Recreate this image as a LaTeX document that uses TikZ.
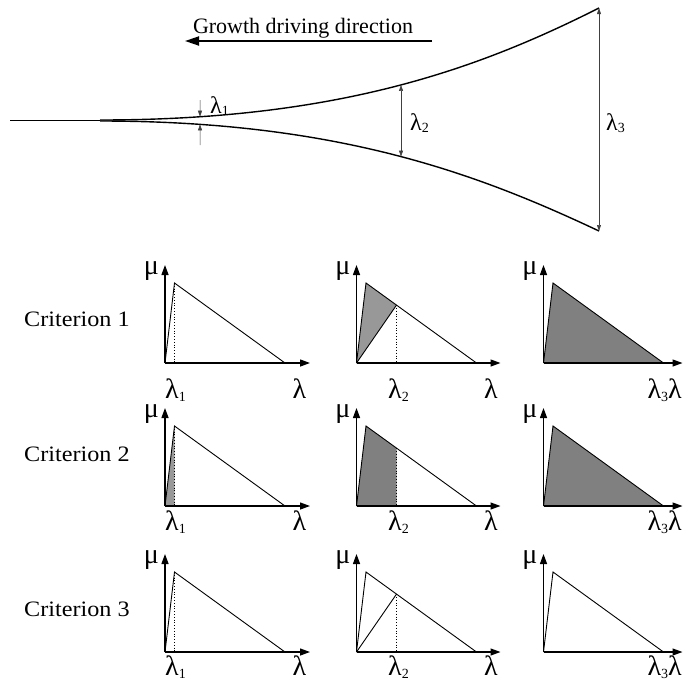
\documentclass[tikz,border=0pt]{standalone}
\usepackage{fontspec}
\setmainfont{Liberation Serif}
\newfontfamily\critfont[FakeStretch=1.1]{Liberation Serif}
\usetikzlibrary{arrows.meta,intersections}
\definecolor{lightfill}{RGB}{152,152,152}
\definecolor{darkfill}{RGB}{128,128,128}
\newcommand\lsub[1]{\raisebox{-0.12em}{\fontsize{14}{14}\selectfont #1}}

\begin{document}
\begin{tikzpicture}[
  x=1pt, y=-1pt,
  axis/.style={-{Triangle[length=10pt,width=7pt]}, line width=1.3pt},
  tri/.style={line width=0.9pt},
  drop/.style={dotted, line width=0.8pt},
  crack/.style={line width=1.4pt},
  gap/.style={-{Triangle[length=6pt,width=4pt]}, line width=0.5pt, draw=black!75},
  gapboth/.style={{Triangle[length=6pt,width=4pt]}-{Triangle[length=6pt,width=4pt]}, line width=0.5pt, draw=black!75},
  lbl/.style={font=\fontsize{28}{28}\selectfont, inner sep=0pt},
  toplbl/.style={font=\fontsize{24}{24}\selectfont, inner sep=0pt},
  crit/.style={font=\critfont\fontsize{22}{22}\selectfont, inner sep=0pt, anchor=base west}
]
\useasboundingbox (0,0) rectangle (683,681);

% crack opening
\coordinate (tail) at (10,120.5);
\coordinate (split) at (100,120.5);
\coordinate (tipU) at (599,8);
\coordinate (tipL) at (599,231);
\draw[crack] (tail) -- (split);
\draw[crack, name path=upper] (100,120) .. controls (340,120) and (480,68) .. (tipU);
\draw[crack, name path=lower] (100,121) .. controls (340,121) and (480,175) .. (tipL);
\path[name path=cut1] (200,0) -- (200,250);
\path[name path=cut2] (401,0) -- (401,250);
\path[name intersections={of=upper and cut1, by=u1}];
\path[name intersections={of=lower and cut1, by=l1}];
\path[name intersections={of=upper and cut2, by=u2}];
\path[name intersections={of=lower and cut2, by=l2}];
\coordinate (a1) at (200,100);
\coordinate (b1) at (200,145);
\draw[gap] (a1) -- (u1);
\draw[gap] (b1) -- (l1);
\draw[gapboth] (u2) -- (l2);
\draw[gapboth] (tipU) -- (tipL);
\node[toplbl, anchor=base west] (gap1) at (210,113) {λ\lsub{1}};
\node[toplbl, anchor=base west] (gap2) at (410,130) {λ\lsub{2}};
\node[toplbl, anchor=base west] (gap3) at (606,130) {λ\lsub{3}};

% driving direction
\coordinate (gstart) at (432,41);
\coordinate (gend) at (185,41);
\draw[-{Triangle[length=14pt,width=9pt]}, line width=1.8pt] (gstart) -- (gend);
\node[font=\fontsize{22}{22}\selectfont, inner sep=0pt, anchor=base] (growth) at (303,33) {Growth driving direction};

% criteria
\node[crit] (crit1) at (24,326) {Criterion 1};
\node[crit] (crit2) at (24,461) {Criterion 2};
\node[crit] (crit3) at (24,616) {Criterion 3};

% panel points
\foreach \c/\x/\len in {1/165/145,2/356.5/144,3/543.5/139}
  \foreach \r/\y in {1/363,2/506,3/652} {
    \coordinate (o\c\r) at (\x,\y);
    \coordinate (p\c\r) at (\x+9.5,\y-80);
    \coordinate (e\c\r) at (\x+120,\y);
    \coordinate (m\c\r) at (\x+40,\y-57.9);
    \coordinate (f\c\r) at (\x+9.5,\y);
    \coordinate (g\c\r) at (\x+40,\y);
    \coordinate (ytip\c\r) at (\x,\y-98);
    \coordinate (xtip\c\r) at (\x+\len,\y);
  }

% shaded areas
\fill[lightfill] (o21) -- (p21) -- (m21) -- cycle;
\fill[lightfill] (o12) -- (p12) -- (f12) -- cycle;
\fill[darkfill] (o22) -- (p22) -- (m22) -- (g22) -- cycle;
\fill[darkfill] (o31) -- (p31) -- (e31) -- cycle;
\fill[darkfill] (o32) -- (p32) -- (e32) -- cycle;

% triangles and axes
\foreach \c in {1,2,3}
  \foreach \r in {1,2,3} {
    \draw[tri] (o\c\r) -- (p\c\r) -- (e\c\r);
    \draw[axis] (o\c\r) -- (ytip\c\r);
    \draw[axis] (o\c\r) -- (xtip\c\r);
    \node[lbl, anchor=base east] (mu\c\r) at ([xshift=-6pt,yshift=-9pt]ytip\c\r) {μ};
  }
\foreach \r in {1,2,3} {
  \draw[drop] (p1\r) -- (f1\r);
  \draw[drop] (m2\r) -- (g2\r);
}
\draw[tri] (o21) -- (m21);
\draw[tri] (o23) -- (m23);

% axis labels
\foreach \r/\d in {1/35,2/24,3/23} {
  \node[lbl, anchor=base] (lo1\r) at ([xshift=1pt,yshift=-\d pt]f1\r) {λ\lsub{1}};
  \node[lbl, anchor=base] (lx1\r) at ([xshift=134.5pt,yshift=-\d pt]o1\r) {λ};
  \node[lbl, anchor=base] (lo2\r) at ([xshift=2pt,yshift=-\d pt]g2\r) {λ\lsub{2}};
  \node[lbl, anchor=base] (lx2\r) at ([xshift=134.5pt,yshift=-\d pt]o2\r) {λ};
  \node[lbl, anchor=base east] (lx3\r) at ([xshift=138.5pt,yshift=-\d pt]o3\r) {λ\lsub{3}λ};
}
\end{tikzpicture}
\end{document}
